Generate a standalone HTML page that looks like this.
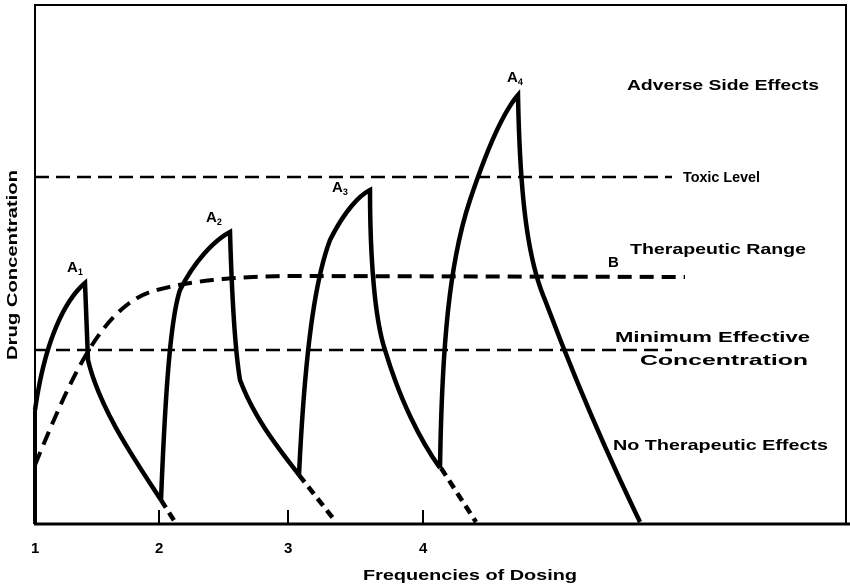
<!DOCTYPE html>
<html><head><style>body{margin:0;background:#fff}svg{display:block}text{font-family:"Liberation Sans",sans-serif;font-weight:bold;fill:#000}</style></head>
<body><svg width="850" height="586" viewBox="0 0 850 586">
<rect x="35" y="5" width="811" height="519" fill="none" stroke="#000" stroke-width="2"/>
<line x1="34" y1="524" x2="850" y2="524" stroke="#000" stroke-width="3"/>
<line x1="35" y1="410" x2="35" y2="524" stroke="#000" stroke-width="4"/>
<g stroke="#000" stroke-width="2"><line x1="159" y1="510" x2="159" y2="524"/><line x1="288" y1="510" x2="288" y2="524"/><line x1="423" y1="510" x2="423" y2="524"/></g>
<g stroke="#000" stroke-width="2.5" stroke-dasharray="14,7"><line x1="35" y1="177" x2="672" y2="177"/><line x1="35" y1="350" x2="672" y2="350"/></g>
<path d="M35,465 C70,380 100,310 150,292 C190,280 240,276 300,276 L685,277" fill="none" stroke="#000" stroke-width="4" stroke-dasharray="14,8"/>
<g fill="none" stroke="#000" stroke-width="4.5">
<path d="M35,410 C45,340 65,300 85,283 L88,360 C100,410 135,460 161,500"/>
<path d="M161,500 C165,400 170,320 180,290 C195,260 215,240 230,232 C232,300 235,350 240,380 C255,420 280,450 299,475"/>
<path d="M299,475 C305,350 315,280 330,240 C345,210 360,195 370,190 C370,260 375,320 385,350 C400,400 420,440 440,468"/>
<path d="M440,468 C442,340 450,260 470,200 C490,140 505,110 518,95 C520,200 528,260 545,300 C575,380 610,460 640,522"/>
</g>
<g fill="none" stroke="#000" stroke-width="4.5" stroke-dasharray="9,6"><path d="M161,500 L175,522"/><path d="M299,475 L336,522"/><path d="M441,468 L476,522"/></g>
<g font-size="15">
<text x="67" y="272">A<tspan font-size="9" dy="3">1</tspan></text>
<text x="206" y="222">A<tspan font-size="9" dy="3">2</tspan></text>
<text x="332" y="192">A<tspan font-size="9" dy="3">3</tspan></text>
<text x="507" y="82">A<tspan font-size="9" dy="3">4</tspan></text>
<text x="627" y="90" textLength="192" lengthAdjust="spacingAndGlyphs">Adverse Side Effects</text>
<text x="683" y="182" textLength="77" lengthAdjust="spacingAndGlyphs">Toxic Level</text>
<text x="630" y="254" textLength="176" lengthAdjust="spacingAndGlyphs">Therapeutic Range</text>
<text x="608" y="267">B</text>
<text x="615" y="342" textLength="195" lengthAdjust="spacingAndGlyphs">Minimum Effective</text>
<text x="640" y="365" textLength="168" lengthAdjust="spacingAndGlyphs">Concentration</text>
<text x="613" y="450" textLength="215" lengthAdjust="spacingAndGlyphs">No Therapeutic Effects</text>
<text x="31" y="553">1</text><text x="155" y="553">2</text><text x="284" y="553">3</text><text x="419" y="553">4</text>
<text x="363" y="580" textLength="214" lengthAdjust="spacingAndGlyphs">Frequencies of Dosing</text>
<text transform="translate(17,265) rotate(-90)" text-anchor="middle" textLength="190" lengthAdjust="spacingAndGlyphs">Drug Concentration</text>
</g>
</svg></body></html>
